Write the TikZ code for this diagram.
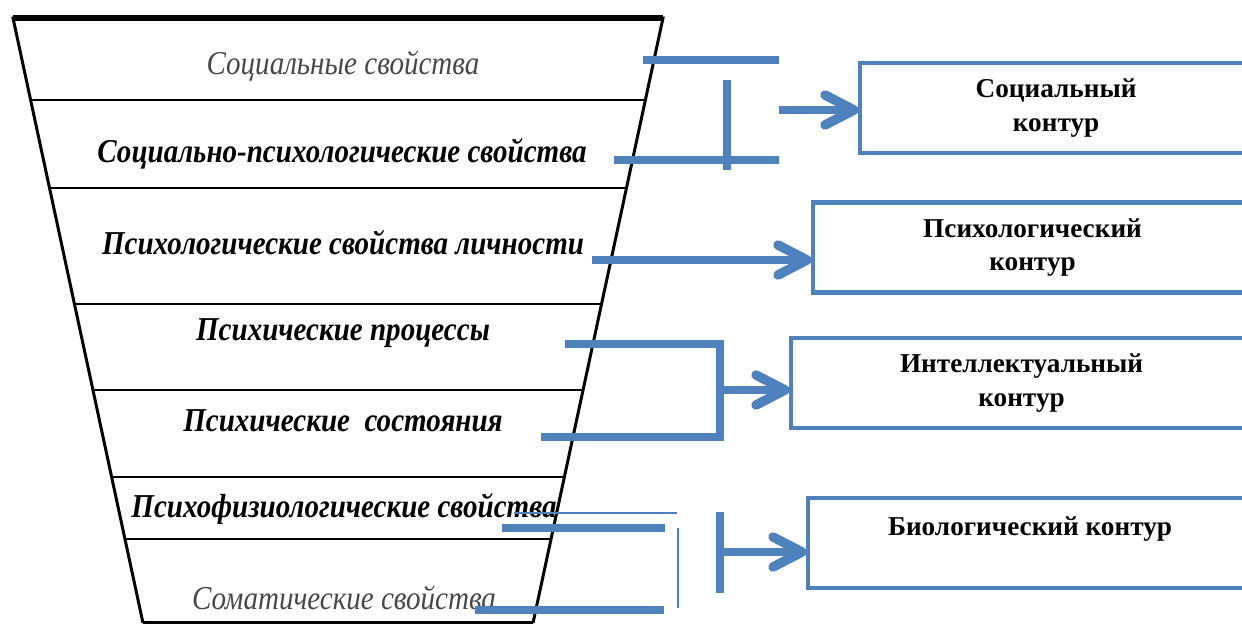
\documentclass[tikz,border=0pt]{standalone}
\usepackage{fontspec}
\setmainfont{Liberation Serif}
\newfontfamily\funnelfont[FakeStretch=0.87]{Liberation Serif}
\usetikzlibrary{calc}
\definecolor{conblue}{HTML}{4F81BD}

\begin{document}
\begin{tikzpicture}[x=0.02cm, y=-0.02cm,
    edge/.style={line width=1.7pt},
    layer/.style={font=\funnelfont\fontsize{19}{22}\selectfont\bfseries\itshape},
    pale/.style={font=\funnelfont\fontsize{19}{22}\selectfont\itshape, text=black!72},
    contour/.style={draw=conblue, line width=2.4pt, anchor=west,
              minimum height=1.8cm, align=center,
              font=\fontsize{15.5}{19}\selectfont\bfseries},
    con/.style={draw=conblue, line width=4.3pt},
    thincon/.style={draw=conblue, line width=1pt},
    chev/.pic={\draw[con, line width=5.4pt, line cap=round, line join=round] (-29,-15) -- (0,0) -- (-29,15);}]
                \useasboundingbox (0,0) rectangle (1242,623);
                % funnel
                \coordinate (tl) at (13,18);
                \coordinate (tr) at (663,18);
                \coordinate (bl) at (143,623);
                \coordinate (br) at (533,623);
                \draw[edge] (bl) -- (tl) -- (tr) -- (br);
                \draw[line width=3pt] (tl) -- (tr);
                \draw[line width=2.5pt] (bl) -- (br);
                \foreach \y in {100,188,304,390,477,539}{
                    \draw[line width=1.2pt] ($(tl)!{(\y-18)/605}!(bl)$) -- ($(tr)!{(\y-18)/605}!(br)$);
                };
                \node[pale] (soc) at (343,66) {Социальные свойства};
                \node[layer] (socpsy) at (342,154) {Социально-психологические свойства};
                \node[layer] (psy) at (343,243) {Психологические свойства личности};
                \node[layer] (proc) at (343,333) {Психические процессы};
                \node[layer] (state) at (343,421) {Психические~~состояния};
                \node[layer] (phys) at (344,509) {Психофизиологические свойства};
                \node[pale] (soma) at (344,598) {Соматические свойства};
                % contours
                \node[contour, minimum width=7.84cm] (csoc) at (858,108) {Социальный\\контур};
                \node[contour, minimum width=8.78cm] (cpsy) at (811,247.5) {Психологический\\контур};
                \node[contour, minimum width=9.22cm] (cint) at (789,383) {Интеллектуальный\\контур};
                \node[contour, minimum width=8.88cm] (cbio) at (806,543) {Биологический контур\\\mbox{}};
                % social
                \coordinate (s1) at (643,60);
                \coordinate (s2) at (614,160);
                \coordinate (sv) at (727,80);
                \coordinate (sa) at (779,110);
                \draw[con] (s1) -- (s1 -| sa);
                \draw[con] (s2) -- (s2 -| sa);
                \draw[con] (sv) -- ++(0,90);
                \draw[con] (sa) -- ($(sa -| csoc.west)+(-4,0)$) pic {chev};
                % psychological
                \coordinate (pa) at (592,260);
                \draw[con] (pa) -- ($(pa -| cpsy.west)+(-4,0)$) pic {chev};
                % intellectual
                \coordinate (i1) at (565,344);
                \coordinate (i2) at (541,437);
                \coordinate (ic) at (720,390);
                \draw[con] (i1) -- (i1 -| ic) -- (i2 -| ic) -- (i2);
                \draw[con] (ic) -- ($(ic -| cint.west)+(-4,0)$) pic {chev};
                % biological
                \coordinate (b1) at (502,528);
                \coordinate (b2) at (475,610);
                \coordinate (bc) at (720,552);
                \draw[thincon] (514,513) -- (677,513);
                \draw[thincon] (678,528) -- (678,608);
                \draw[con] (b1) -- ++(163,0);
                \draw[con] (b2) -- ++(189,0);
                \draw[con] (720,512) -- (720,593);
                \draw[con] (bc) -- ($(bc -| cbio.west)+(-4,0)$) pic {chev};
            \end{tikzpicture}
\end{document}
